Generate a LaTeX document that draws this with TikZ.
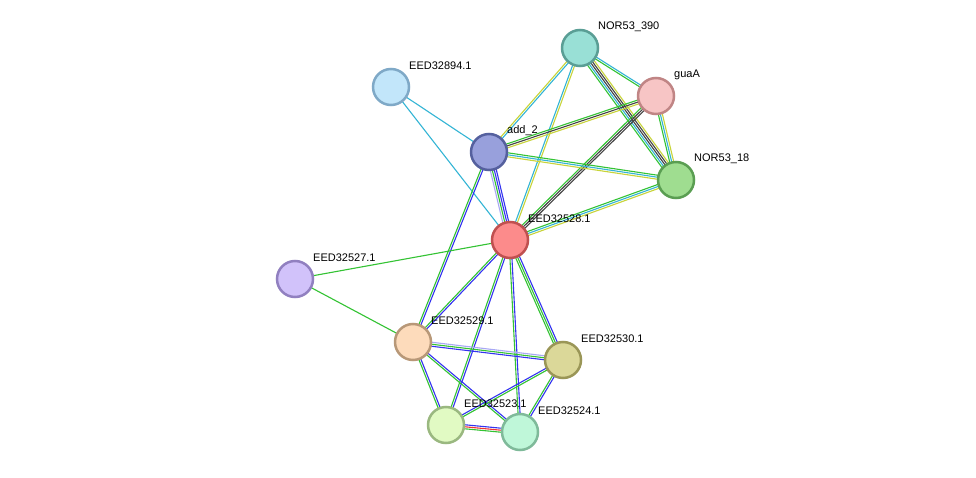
\documentclass[tikz,border=0pt]{standalone}
\usepackage{fontspec}
\setmainfont{Liberation Sans}
\usetikzlibrary{calc}
\definecolor{eg}{HTML}{33C333}
\definecolor{ec}{HTML}{33B5D5}
\definecolor{ey}{HTML}{C8D43A}
\definecolor{ek}{HTML}{444444}
\definecolor{eB}{HTML}{3333F0}
\definecolor{el}{HTML}{A8A8F5}
\definecolor{er}{HTML}{F03333}
\newcommand\medge[4]{\foreach \cc [count=\i] in {#4}{\pgfmathsetmacro\oo{(\i-1-(#3-1)/2)*2}\draw[draw=e\cc,line width=1.1] ($(#1)!\oo pt!90:(#2)$) -- ($(#2)!\oo pt!-90:(#1)$);}}
\newcommand\prot[4]{\node[prot,fill=#2,draw=#3] (#1) at (p#1) {};\node[lab] (l#1) at ($(p#1)+(18,-21)$) {#4};}
\begin{document}
\begin{tikzpicture}[x=1pt,y=-1pt,
  prot/.style={circle,minimum size=36,line width=2.5,inner sep=0},
  lab/.style={anchor=west,inner sep=0,font=\fontsize{11}{13}\selectfont}]
\useasboundingbox[fill=white] (0,0) rectangle (976,478);
\coordinate (pA) at (580,48);
\coordinate (pB) at (656,96);
\coordinate (pC) at (391,87);
\coordinate (pD) at (489,152);
\coordinate (pE) at (676,180);
\coordinate (pF) at (510,240);
\coordinate (pG) at (295,279);
\coordinate (pH) at (413,342);
\coordinate (pI) at (563,360);
\coordinate (pJ) at (446,425);
\coordinate (pK) at (520,432);
\medge{pA}{pB}{2}{g,c}
\medge{pA}{pD}{2}{y,c}
\medge{pA}{pF}{2}{c,y}
\medge{pA}{pE}{5}{g,c,k,k,y}
\medge{pB}{pD}{3}{g,k,y}
\medge{pB}{pF}{3}{g,k,k}
\medge{pB}{pE}{3}{g,c,y}
\medge{pD}{pE}{3}{y,c,g}
\medge{pF}{pE}{3}{y,c,g}
\medge{pC}{pD}{1}{c}
\medge{pC}{pF}{1}{c}
\medge{pD}{pF}{4}{l,g,B,B}
\medge{pD}{pH}{2}{g,B}
\medge{pF}{pG}{1}{g}
\medge{pG}{pH}{1}{g}
\medge{pF}{pH}{2}{g,B}
\medge{pF}{pJ}{2}{g,B}
\medge{pF}{pK}{2}{g,B}
\medge{pF}{pI}{3}{g,g,B}
\medge{pH}{pI}{3}{B,g,l}
\medge{pH}{pJ}{2}{g,B}
\medge{pH}{pK}{2}{g,B}
\medge{pI}{pJ}{2}{B,g}
\medge{pI}{pK}{2}{g,B}
\medge{pJ}{pK}{3}{g,r,B}
\prot{A}{{rgb,255:red,153;green,224;blue,214}}{{rgb,255:red,90;green,158;blue,149}}{NOR53\_390}
\prot{B}{{rgb,255:red,247;green,197;blue,197}}{{rgb,255:red,192;green,133;blue,133}}{guaA}
\prot{C}{{rgb,255:red,194;green,230;blue,250}}{{rgb,255:red,127;green,169;blue,199}}{EED32894.1}
\prot{D}{{rgb,255:red,152;green,160;blue,220}}{{rgb,255:red,85;green,96;blue,158}}{add\_2}
\prot{E}{{rgb,255:red,159;green,221;blue,144}}{{rgb,255:red,90;green,158;blue,82}}{NOR53\_18}
\prot{F}{{rgb,255:red,252;green,139;blue,139}}{{rgb,255:red,192;green,80;blue,80}}{EED32528.1}
\prot{G}{{rgb,255:red,209;green,194;blue,250}}{{rgb,255:red,145;green,128;blue,192}}{EED32527.1}
\prot{H}{{rgb,255:red,253;green,219;blue,187}}{{rgb,255:red,184;green,152;blue,120}}{EED32529.1}
\prot{I}{{rgb,255:red,219;green,216;blue,153}}{{rgb,255:red,154;green,150;blue,87}}{EED32530.1}
\prot{J}{{rgb,255:red,225;green,250;blue,195}}{{rgb,255:red,154;green,184;blue,128}}{EED32523.1}
\prot{K}{{rgb,255:red,191;green,247;blue,217}}{{rgb,255:red,127;green,186;blue,154}}{EED32524.1}
\end{tikzpicture}
\end{document}
